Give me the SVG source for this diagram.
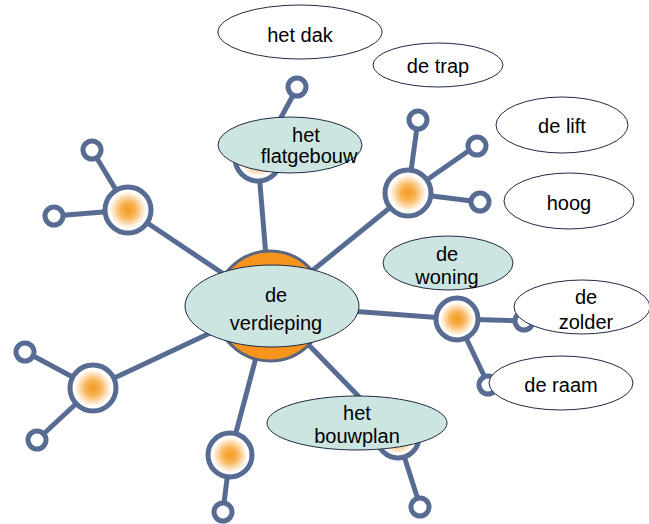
<svg xmlns="http://www.w3.org/2000/svg" width="649" height="524" viewBox="0 0 649 524">
<defs>
<radialGradient id="glow" cx="0.5" cy="0.5" r="0.5">
<stop offset="0" stop-color="#f59a1e"/>
<stop offset="0.35" stop-color="#f8b55a"/>
<stop offset="0.8" stop-color="#ffffff"/>
</radialGradient>
<style>
.bond{stroke:#586c93;stroke-width:5;fill:none;stroke-linecap:round}
.atom{fill:url(#glow);stroke:#586c93;stroke-width:5}
.small{fill:#ffffff;stroke:#586c93;stroke-width:5}
.lbl{fill:#ffffff;stroke:#1f2a44;stroke-width:1}
.lblt{fill:#cde5e1;stroke:#1f2a44;stroke-width:1}
text{font-family:"Liberation Sans",Arial,sans-serif;font-size:20px;fill:#000;text-anchor:middle}
</style>
</defs>
<rect width="649" height="524" fill="#ffffff"/>
<g id="connectors">
<line class="bond" x1="270" y1="305" x2="258" y2="160"/>
<line class="bond" x1="258" y1="160" x2="297" y2="88"/>
<line class="bond" x1="270" y1="305" x2="128" y2="210"/>
<line class="bond" x1="128" y1="210" x2="92" y2="150"/>
<line class="bond" x1="128" y1="210" x2="54" y2="216"/>
<line class="bond" x1="270" y1="305" x2="93" y2="388"/>
<line class="bond" x1="93" y1="388" x2="26" y2="352"/>
<line class="bond" x1="93" y1="388" x2="37" y2="440"/>
<line class="bond" x1="270" y1="305" x2="230" y2="455"/>
<line class="bond" x1="230" y1="455" x2="223" y2="511"/>
<line class="bond" x1="270" y1="305" x2="398" y2="437"/>
<line class="bond" x1="398" y1="437" x2="420" y2="506"/>
<line class="bond" x1="270" y1="305" x2="457" y2="319"/>
<line class="bond" x1="457" y1="319" x2="524" y2="321"/>
<line class="bond" x1="457" y1="319" x2="488" y2="384"/>
<line class="bond" x1="270" y1="305" x2="408" y2="193"/>
<line class="bond" x1="408" y1="193" x2="418" y2="120"/>
<line class="bond" x1="408" y1="193" x2="477" y2="145"/>
<line class="bond" x1="408" y1="193" x2="480" y2="202"/>
</g>
<g id="central">
<circle cx="270" cy="306" r="55" fill="#f7941d" stroke="#5a6680" stroke-width="3"/>
</g>
<g id="atoms">
<circle class="atom" cx="258" cy="158" r="23"/>
<circle class="atom" cx="128" cy="210" r="23"/>
<circle class="atom" cx="93" cy="388" r="23"/>
<circle class="atom" cx="230" cy="455" r="22"/>
<circle class="atom" cx="398" cy="437" r="21"/>
<circle class="atom" cx="457" cy="319" r="21"/>
<circle class="atom" cx="408" cy="193" r="23"/>
<circle class="small" cx="297" cy="87" r="9"/>
<circle class="small" cx="92" cy="150" r="9"/>
<circle class="small" cx="54" cy="216" r="9"/>
<circle class="small" cx="25" cy="352" r="9"/>
<circle class="small" cx="37" cy="440" r="9"/>
<circle class="small" cx="223" cy="512" r="9"/>
<circle class="small" cx="420" cy="507" r="9"/>
<circle class="small" cx="524" cy="321" r="9"/>
<circle class="small" cx="488" cy="385" r="9"/>
<circle class="small" cx="418" cy="120" r="9"/>
<circle class="small" cx="477" cy="146" r="9"/>
<circle class="small" cx="480" cy="202" r="9"/>
</g>
<g id="het-dak">
<ellipse class="lbl" cx="300" cy="32" rx="82" ry="27"/>
<text x="300" y="42">het dak</text>
</g>
<g id="de-trap">
<ellipse class="lbl" cx="438" cy="65" rx="65" ry="22"/>
<text x="438" y="73">de trap</text>
</g>
<g id="de-lift">
<ellipse class="lbl" cx="562" cy="125" rx="66" ry="28"/>
<text x="562" y="133">de lift</text>
</g>
<g id="hoog">
<ellipse class="lbl" cx="569" cy="201" rx="65" ry="28"/>
<text x="569" y="210">hoog</text>
</g>
<g id="het-flatgebouw">
<ellipse class="lblt" cx="290" cy="145" rx="72" ry="28"/>
<text x="306" y="142">het</text>
<text x="309" y="163">flatgebouw</text>
</g>
<g id="de-woning">
<ellipse class="lblt" cx="448" cy="263" rx="65" ry="27"/>
<text x="447" y="261">de</text>
<text x="447" y="284">woning</text>
</g>
<g id="de-verdieping">
<ellipse class="lblt" cx="272" cy="306" rx="87" ry="41"/>
<text x="276" y="302">de</text>
<text x="276" y="330">verdieping</text>
</g>
<g id="de-zolder">
<ellipse class="lbl" cx="582" cy="307" rx="68" ry="27"/>
<text x="586" y="304">de</text>
<text x="586" y="329">zolder</text>
</g>
<g id="de-raam">
<ellipse class="lbl" cx="561" cy="383" rx="72" ry="27"/>
<text x="561" y="392">de raam</text>
</g>
<g id="het-bouwplan">
<ellipse class="lblt" cx="357" cy="423" rx="90" ry="27"/>
<text x="357" y="420">het</text>
<text x="357" y="443">bouwplan</text>
</g>
</svg>
